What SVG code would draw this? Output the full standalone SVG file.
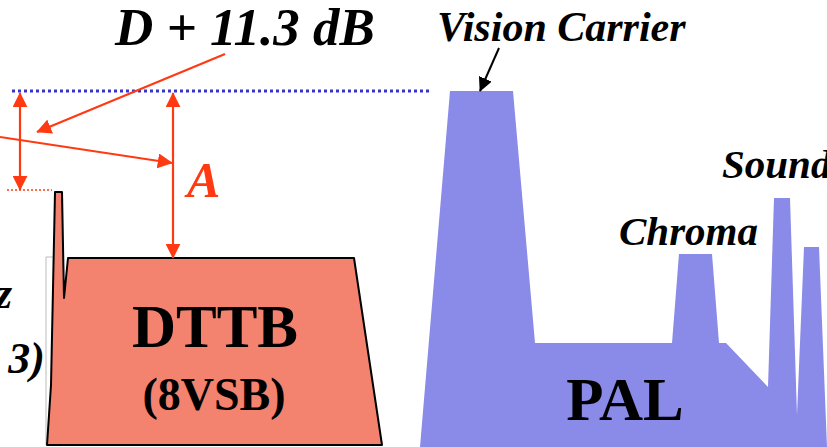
<svg xmlns="http://www.w3.org/2000/svg" width="827" height="447" viewBox="0 0 827 447">
<style>
.ttl{font-family:"Liberation Serif","Times New Roman",serif;font-weight:bold;font-style:italic;fill:#000}
.big{font-family:"Liberation Serif","Times New Roman",serif;font-weight:bold;fill:#000}
.red{stroke:#FF3A12;stroke-width:2.2;fill:none}
</style>
<defs>
<marker id="ar" viewBox="0 0 10 10" refX="9.5" refY="5" markerWidth="15" markerHeight="15" markerUnits="userSpaceOnUse" orient="auto-start-reverse"><path d="M0,0 L10,5 L0,10 z" fill="#FF3A12"/></marker>
<marker id="ab" viewBox="0 0 10 10" refX="9.5" refY="5" markerWidth="14" markerHeight="14" markerUnits="userSpaceOnUse" orient="auto"><path d="M0,0 L10,5 L0,10 z" fill="#000"/></marker>
</defs>
<rect width="827" height="447" fill="#fff"/>
<g id="pal">
<path d="M420,447 L450,91 L513,91 L535,343 L672,343 L679,254 L712,254 L719,343 L726,343 L768,387 L774,198 L790,198 L797,415 L804,247 L819,247 L827,447 Z" fill="#8A8AE8"/>
<text class="big" x="625" y="420" font-size="61" text-anchor="middle">PAL</text>
</g>
<g id="dttb">
<path d="M46,445 V257 H56" stroke="#bbb" stroke-width="1" fill="none"/>
<path d="M47,445 L51,385 L55,192 L62,192 L64,298 L68,258 L354,258 L382,445 Z" fill="#F3826E" stroke="#000" stroke-width="2" stroke-linejoin="round"/>
<text class="big" x="215" y="347" font-size="61" text-anchor="middle">DTTB</text>
<text class="big" x="214" y="410" font-size="46" text-anchor="middle">(8VSB)</text>
</g>
<g id="labels">
<text class="ttl" x="245" y="45" font-size="53" text-anchor="middle">D + 11.3 dB</text>
<text class="ttl" x="437" y="41" font-size="42">Vision Carrier</text>
<text class="ttl" x="619" y="245" font-size="41">Chroma</text>
<text class="ttl" x="722" y="178" font-size="41">Sound</text>
<text class="ttl" x="187" y="197" font-size="50" fill="#FF3A12" style="fill:#FF3A12">A</text>
<text class="ttl" x="12" y="308" font-size="44" text-anchor="end">z</text>
<text class="ttl" x="45" y="373" font-size="44" text-anchor="end">3)</text>
</g>
<g id="connectors">
<line x1="12" y1="91" x2="432" y2="91" stroke="#3535CC" stroke-width="3" stroke-dasharray="3 3"/>
<line x1="7" y1="190" x2="52" y2="190" stroke="#FF3A12" stroke-width="1.5" stroke-dasharray="2 2"/>
<line class="red" x1="20" y1="93" x2="20" y2="190" marker-start="url(#ar)" marker-end="url(#ar)"/>
<line class="red" x1="173" y1="93" x2="173" y2="258" marker-start="url(#ar)" marker-end="url(#ar)"/>
<line class="red" x1="225" y1="54" x2="37" y2="132" marker-end="url(#ar)"/>
<line class="red" x1="0" y1="137" x2="172" y2="163" marker-end="url(#ar)"/>
<line x1="499" y1="48" x2="480" y2="91" stroke="#000" stroke-width="2" marker-end="url(#ab)"/>
</g>
</svg>
